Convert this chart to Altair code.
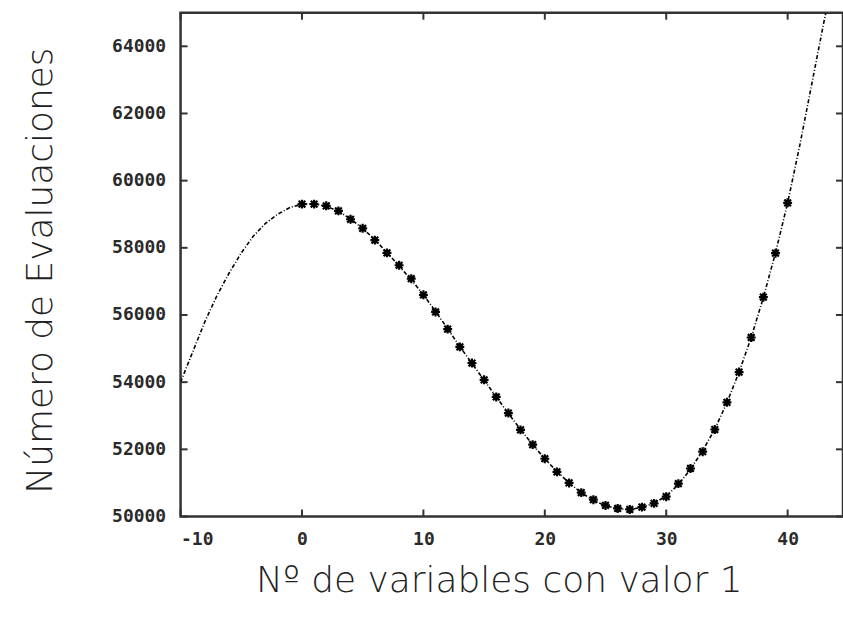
import altair as alt
import pandas as pd

# measured points (x = number of variables with value 1)
pt_x = list(range(0, 41))
pt_y = [59300, 59300, 59250, 59100, 58850, 58580, 58230, 57850, 57480, 57080,
        56600, 56090, 55580, 55050, 54570, 54070, 53560, 53080, 52580, 52140,
        51720, 51330, 51000, 50710, 50500, 50330, 50240, 50210, 50280, 50390,
        50590, 50980, 51430, 51930, 52590, 53400, 54300, 55330, 56530, 57840, 59340]

# fitted curve
line_x = [-10, -9, -8, -7, -6, -5, -4, -3, -2, -1,
          0, 1, 2, 3, 4, 5, 6, 7, 8, 9,
          10, 11, 12, 13, 14, 15, 16, 17, 18, 19,
          20, 21, 22, 23, 24, 25, 26, 27, 28, 29,
          30, 31, 32, 33, 34, 35, 36, 37, 38, 39,
          40, 41, 42, 43, 43.15]
line_y = [54000, 54900, 55800, 56580, 57250, 57850, 58350, 58730, 59000, 59200,
          59300, 59310, 59240, 59090, 58860, 58580, 58240, 57860, 57460, 57050,
          56600, 56110, 55590, 55060, 54560, 54060, 53560, 53070, 52590, 52140,
          51720, 51340, 51000, 50710, 50480, 50320, 50230, 50210, 50270, 50400,
          50610, 50950, 51410, 51960, 52600, 53390, 54300, 55330, 56520, 57850,
          59340, 61050, 62900, 64750, 65000]

x_ticks = [-10, 0, 10, 20, 30, 40]
y_ticks = [50000, 52000, 54000, 56000, 58000, 60000, 62000, 64000]

W, H = 664, 505
TL = 7

pts = pd.DataFrame({"x": pt_x, "y": pt_y})
crv = pd.DataFrame({"x": line_x, "y": line_y})
xt = pd.DataFrame({"x": x_ticks})
yt = pd.DataFrame({"y": y_ticks})

xscale = alt.Scale(domain=[-10, 44.56], nice=False, zero=False)
yscale = alt.Scale(domain=[50000, 65000], nice=False, zero=False)

lab_font = "DejaVu Sans Mono"
title_font = "DejaVu Sans"

x_axis = alt.Axis(values=x_ticks, ticks=False, domain=False, grid=False,
                  labelExpr="'' + datum.value", labelFont=lab_font, labelFontSize=18,
                  labelFontWeight="bold", labelColor="#2a2a2a", labelPadding=14,
                  title="Nº de variables con valor 1", titleFont=title_font,
                  titleFontSize=36, titleFontWeight=200, titleColor="#222",
                  titleX=319, titleY=75, titleAnchor="middle", titleAlign="center",
                  titleBaseline="alphabetic")
y_axis = alt.Axis(values=y_ticks, ticks=False, domain=False, grid=False,
                  labelExpr="'' + datum.value", labelFont=lab_font, labelFontSize=18,
                  labelFontWeight="bold", labelColor="#2a2a2a", labelPadding=15,
                  title="Número de Evaluaciones", titleFont=title_font,
                  titleFontSize=36, titleFontWeight=200, titleColor="#222",
                  titleAngle=270, titleX=-129, titleY=258, titleAlign="center",
                  titleBaseline="alphabetic")

curve = alt.Chart(crv).mark_line(color="black", strokeWidth=1.6,
                                 strokeDash=[4, 2, 1, 2], clip=True).encode(
    x=alt.X("x:Q", scale=xscale, axis=x_axis),
    y=alt.Y("y:Q", scale=yscale, axis=y_axis),
    order="x:Q",
)

marker = "M-1,0L1,0M0,-1L0,1M-0.75,-0.75L0.75,0.75M-0.75,0.75L0.75,-0.75"
points = alt.Chart(pts).mark_point(shape=marker, color="black", size=80,
                                   strokeWidth=2.2, filled=False, opacity=1).encode(
    x=alt.X("x:Q", scale=xscale),
    y=alt.Y("y:Q", scale=yscale),
)

tick_style = dict(color="#333", strokeWidth=2)
xb = alt.Chart(xt).mark_rule(**tick_style).encode(
    x=alt.X("x:Q", scale=xscale), y=alt.value(H), y2=alt.value(H - TL))
xtop = alt.Chart(xt).mark_rule(**tick_style).encode(
    x=alt.X("x:Q", scale=xscale), y=alt.value(0), y2=alt.value(TL))
yl = alt.Chart(yt).mark_rule(**tick_style).encode(
    y=alt.Y("y:Q", scale=yscale), x=alt.value(0), x2=alt.value(TL))
yr = alt.Chart(yt).mark_rule(**tick_style).encode(
    y=alt.Y("y:Q", scale=yscale), x=alt.value(W), x2=alt.value(W - TL))

chart = alt.layer(curve, xb, xtop, yl, yr, points).properties(
    width=W, height=H,
    padding={"left": 181, "top": 12, "right": 0, "bottom": 101},
    autosize="none",
    background="white",
).configure_view(stroke="#333", strokeWidth=2.5)

chart.save("out.html", embed_options={"renderer": "svg", "actions": False})
